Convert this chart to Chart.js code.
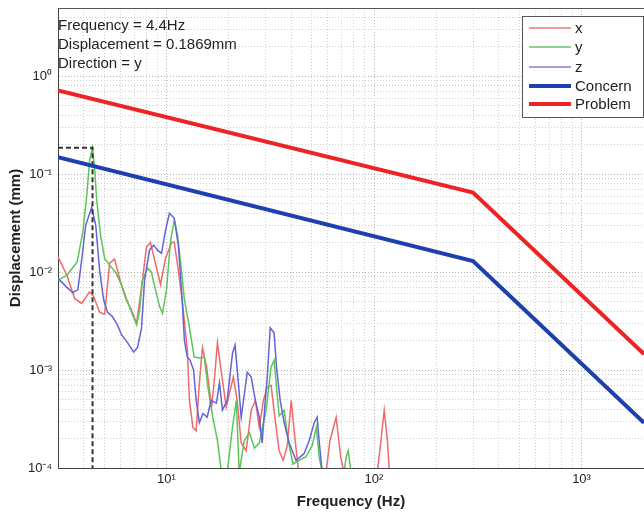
<!DOCTYPE html>
<html><head><meta charset="utf-8">
<script src="https://cdn.jsdelivr.net/npm/chart.js@4.4.1/dist/chart.umd.min.js"></script>
<style>html,body{margin:0;padding:0;background:#fff;overflow:hidden}#wrap{width:644px;height:515px;position:relative}</style>
</head><body><div id="wrap"><canvas id="c" width="644" height="515"></canvas></div>
<script>
// ---- data ----
const xFreq = [2.99,3.31,3.61,3.90,4.26,4.45,4.76,5.03,5.32,5.62,6.01,6.36,6.78,7.18,7.66,8.0,8.37,8.95,9.36,9.89,10.6,10.9,11.4,11.9,12.6,12.9,13.4,13.9,14.4,14.9,15.6,16.5,17.0,17.6,18.4,19.4,20.1,21.0,21.9,22.9,24.2,25.6,26.8,28.0,29.3,30.6,31.9,33.4,34.9,36.5,38.2,39.9,41.7,43.6,58.7,61.3,65.7,69.1,72.4,103,108,112,116,119];
const xDisp = [0.0146,0.0093,0.0054,0.0048,0.0063,0.0057,0.0039,0.0037,0.0124,0.0136,0.0079,0.0054,0.0041,0.0030,0.0083,0.0180,0.0202,0.0110,0.0075,0.0139,0.0202,0.0202,0.0105,0.0052,0.0016,0.00049,0.00026,0.00024,0.00074,0.0017,0.00107,0.00042,0.00079,0.0019,0.00093,0.00042,0.00058,0.00085,0.00049,0.00018,0.00015,0.00039,0.00049,0.00026,0.00049,0.00067,0.00070,0.00031,0.00015,0.00012,0.00017,0.00049,0.00019,0.00008,0.00009,0.00019,0.00033,0.00013,0.00008,0.00008,0.00019,0.00039,0.00019,0.00008];

const yFreq = [2.99,3.31,3.71,3.95,4.13,4.26,4.4,4.51,4.61,4.81,5.03,5.32,5.68,6.07,6.36,6.78,7.18,7.42,7.66,8.1,8.46,8.85,9.25,9.56,10.0,10.46,10.9,11.3,11.8,12.2,12.8,13.6,14.4,15.2,15.9,16.7,17.6,18.4,19.6,20.8,21.7,22.4,23.7,25.1,26.5,28.0,30.2,31.9,33.0,34.9,36.9,38.6,40.7,43.6,46.9,50.4,52.7,54.4,56.9,71,73.5,75,77.6];
const yDisp = [0.0083,0.0093,0.0127,0.0256,0.0611,0.139,0.1869,0.110,0.0543,0.0239,0.0139,0.0118,0.0100,0.0074,0.0056,0.0039,0.0029,0.0041,0.0083,0.0110,0.0100,0.0066,0.0045,0.0038,0.0066,0.0212,0.0339,0.0239,0.0105,0.0052,0.0030,0.00136,0.00133,0.00136,0.00063,0.00033,0.00019,0.00009,0.00009,0.00026,0.00049,0.00009,0.00019,0.00023,0.00016,0.00018,0.00039,0.00107,0.00126,0.00034,0.00039,0.00019,0.00011,0.00012,0.00013,0.00017,0.00026,0.00013,0.00008,0.00008,0.00013,0.00015,0.00009];

const zFreq = [2.99,3.31,3.53,3.74,3.90,4.08,4.36,4.56,4.76,4.98,5.2,5.5,5.8,6.07,6.5,6.94,7.25,7.58,7.84,8.28,8.66,9.05,9.46,9.89,10.33,10.9,11.4,11.9,12.2,12.6,13.0,13.5,13.9,14.4,15.0,15.7,16.4,17.4,18.0,18.6,19.6,20.8,21.4,22.2,22.9,23.7,24.5,25.6,26.8,28.0,28.9,29.9,30.6,31.6,33.0,33.9,35.3,36.9,39.0,42.1,46.0,48.7,51.5,53.2,54.4,56.3];
const zDisp = [0.0087,0.0070,0.0062,0.0066,0.0133,0.0302,0.046,0.0302,0.0105,0.0052,0.0039,0.0035,0.0029,0.0023,0.0019,0.00153,0.0017,0.0027,0.0083,0.0168,0.0189,0.0168,0.0156,0.0268,0.040,0.0356,0.0189,0.0052,0.0020,0.00136,0.00126,0.0010,0.00049,0.00029,0.00036,0.00033,0.00049,0.00046,0.00074,0.00039,0.00049,0.00149,0.0018,0.00074,0.00033,0.00056,0.00095,0.00085,0.00049,0.00033,0.00018,0.00049,0.00085,0.0027,0.0024,0.00107,0.00049,0.00029,0.00018,0.00012,0.00014,0.00019,0.00029,0.00033,0.00019,0.00009];

const limitFreq = [3, 300, 2000];
const concernDisp = [0.15, 0.013, 0.00029];
const problemDisp = [0.72, 0.065, 0.00146];

const markerFreq = 4.4;
const markerDisp = 0.1869;
const markerDirection = 'y';

const xRange = [3, 2000];
const yRange = [1e-4, 5];
const seriesNames = ['x', 'y', 'z', 'Concern', 'Problem'];

// ---- build ----
const pts = (f, d) => f.map((v, i) => ({x: v, y: d[i]}));
const colors = ['#ef6a6a', '#5cc45c', '#6464d6', '#1e3fae', '#ee2424'];
const legendColors = ['#f29a9a', '#8fd08f', '#a0a0e0', '#1e3fae', '#ee2424'];

function logTicks(min, max) {
  const t = [];
  for (let e = -5; e <= 4; e++) for (let m = 1; m < 10; m++) {
    const v = m * Math.pow(10, e);
    if (v >= min * 0.9999 && v <= max * 1.0001) t.push({value: v});
  }
  return t;
}
const supMap = {'-':'⁻','0':'⁰','1':'¹','2':'²','3':'³','4':'⁴','5':'⁵'};
function isPow10(v) { const e = Math.round(Math.log10(v)); return Math.abs(v - Math.pow(10, e)) < 1e-9 * Math.pow(10, e); }
function fmt(v) {
  if (!isPow10(v)) return '';
  const e = String(Math.round(Math.log10(v)));
  return '10' + e.split('').map(c => supMap[c]).join('');
}
const gridColor = ctx => (ctx.tick && isPow10(ctx.tick.value)) ? '#b4b4b4' : '#cfcfcf';

Chart.defaults.font.family = '"Liberation Sans", Arial, Helvetica, sans-serif';
Chart.defaults.color = '#222';

const overlay = {
  id: 'overlay',
  afterDraw(chart) {
    const {ctx, chartArea: a} = chart;
    ctx.save();
    ctx.strokeStyle = '#555';
    ctx.lineWidth = 1;
    ctx.beginPath(); ctx.moveTo(a.left, a.top + 0.5); ctx.lineTo(a.right, a.top + 0.5); ctx.stroke();
    // info text
    ctx.fillStyle = '#222';
    ctx.font = '15px "Liberation Sans", Arial, sans-serif';
    ctx.textBaseline = 'alphabetic';
    ctx.textAlign = 'left';
    ctx.fillText('Frequency = ' + markerFreq + 'Hz', 58, 30);
    ctx.fillText('Displacement = ' + markerDisp + 'mm', 58, 49);
    ctx.fillText('Direction = ' + markerDirection, 58, 68);
    // legend
    const lx = 522, ly = 16, lw = 121, lh = 101;
    ctx.fillStyle = '#fff';
    ctx.fillRect(lx, ly, lw, lh);
    ctx.strokeStyle = '#555';
    ctx.strokeRect(lx + 0.5, ly + 0.5, lw, lh);
    const rows = [28, 47, 67, 86, 104];
    seriesNames.forEach((n, i) => {
      ctx.strokeStyle = legendColors[i];
      ctx.lineWidth = i < 3 ? 2 : 4;
      ctx.beginPath(); ctx.moveTo(529, rows[i]); ctx.lineTo(571, rows[i]); ctx.stroke();
      ctx.fillStyle = '#222';
      ctx.textBaseline = 'middle';
      ctx.fillText(n, 575, rows[i] + 1);
    });
    ctx.restore();
  }
};

const thin = {borderWidth: 1.5, pointRadius: 0, tension: 0, fill: false, clip: 0};
new Chart(document.getElementById('c'), {
  type: 'line',
  data: {
    datasets: [
      {label: 'Problem', data: pts(limitFreq, problemDisp), borderColor: colors[4], borderWidth: 4, pointRadius: 0, order: 0, clip: 0},
      {label: 'Concern', data: pts(limitFreq, concernDisp), borderColor: colors[3], borderWidth: 4, pointRadius: 0, order: 1, clip: 0},
      {label: 'marker', data: [{x: xRange[0], y: markerDisp}, {x: markerFreq, y: markerDisp}, {x: markerFreq, y: yRange[0]}], borderColor: '#333', borderWidth: 2, borderDash: [5, 3], pointRadius: 0, order: 2, clip: 0},
      Object.assign({label: 'z', data: pts(zFreq, zDisp), borderColor: colors[2], order: 3}, thin),
      Object.assign({label: 'y', data: pts(yFreq, yDisp), borderColor: colors[1], order: 4}, thin),
      Object.assign({label: 'x', data: pts(xFreq, xDisp), borderColor: colors[0], order: 5}, thin)
    ]
  },
  options: {
    responsive: false, animation: false, devicePixelRatio: 1,
    layout: {padding: {top: 8, right: 0, left: 0, bottom: 0}},
    plugins: {legend: {display: false}, tooltip: {enabled: false}},
    scales: {
      x: {
        type: 'logarithmic', min: xRange[0], max: xRange[1],
        afterBuildTicks: s => { s.ticks = logTicks(xRange[0], xRange[1]); },
        afterFit: s => { s.height = 47; s.paddingLeft = 0; s.paddingRight = 0; },
        ticks: {callback: v => fmt(v), autoSkip: false, maxRotation: 0, padding: 4, font: {size: 13}, color: '#222'},
        grid: {color: gridColor, lineWidth: 1, drawTicks: false},
        border: {display: true, color: '#444', dash: [1, 2]},
        title: {display: true, text: 'Frequency (Hz)', font: {size: 15, weight: 'bold'}, padding: {top: 0, bottom: 4}, color: '#222'}
      },
      y: {
        type: 'logarithmic', min: yRange[0], max: yRange[1],
        afterBuildTicks: s => { s.ticks = logTicks(yRange[0], yRange[1]); },
        afterFit: s => { s.width = 58; s.paddingTop = 0; s.paddingBottom = 0; },
        ticks: {callback: v => fmt(v), autoSkip: false, padding: 6, font: {size: 13}, color: '#222'},
        grid: {color: gridColor, lineWidth: 1, drawTicks: false},
        border: {display: true, color: '#444', dash: [1, 2]},
        title: {display: true, text: 'Displacement (mm)', font: {size: 15, weight: 'bold'}, padding: {top: 7, bottom: 0}, color: '#222'}
      }
    }
  },
  plugins: [overlay]
});
</script></body></html>
